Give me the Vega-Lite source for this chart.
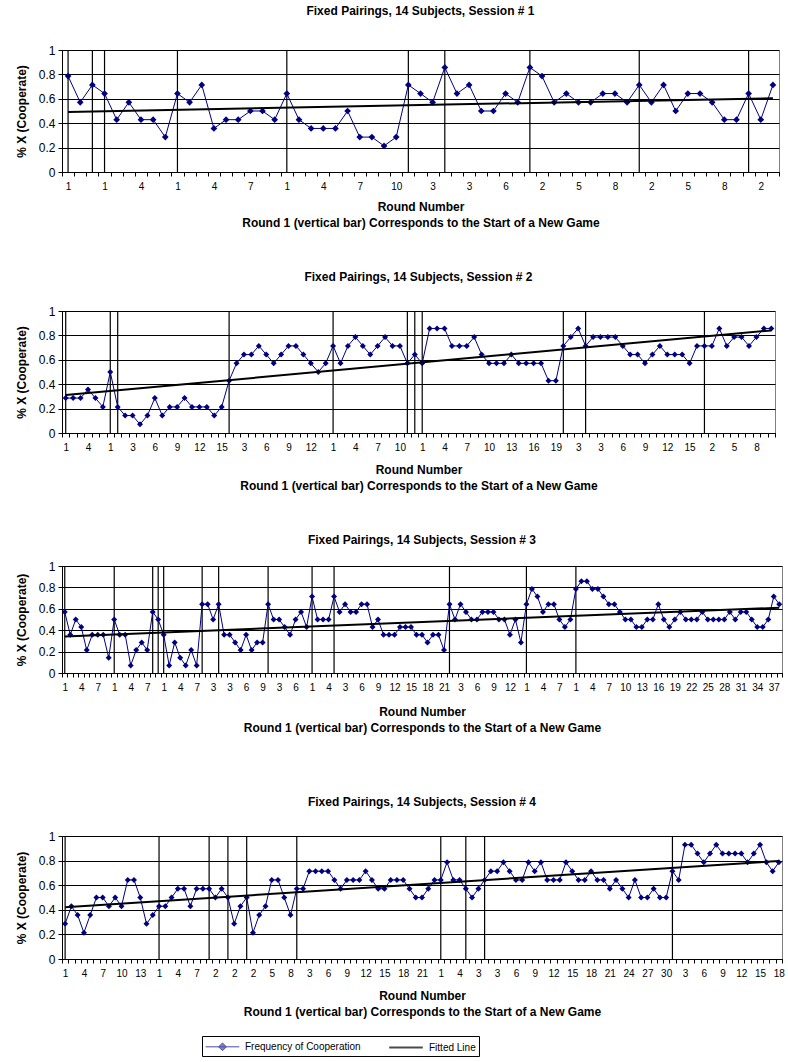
{
"$schema":"https://vega.github.io/schema/vega-lite/v6.json",
"padding":{"left":14,"top":4,"right":0,"bottom":0},
"config":{
"font":"Liberation Sans",
"view":{"stroke":"#808080","strokeWidth":1},
"title":{"fontSize":12,"fontWeight":"bold","color":"black","anchor":"middle"},
"axisX":{"domainColor":"black","tickColor":"black","tickSize":4,"tickBand":"extent","labelAngle":0,"labelFontSize":10,"labelColor":"black","labelOverlap":false,"labelPadding":5,"grid":false,"titleFontSize":12,"titleFontWeight":"bold","titleColor":"black","titlePadding":10,"titleLineHeight":16},
"axisY":{"domainColor":"black","tickColor":"black","tickSize":4,"labelFontSize":12,"labelColor":"black","labelPadding":3,"labelFlush":false,"gridColor":"black","gridOpacity":1,"titleFontSize":12,"titleFontWeight":"bold","titleColor":"black","titlePadding":10,"tickCount":5,"format":"~g"}
},
"datasets":{
"p1":[
{"idx":1,"cat":"001|1","round":1,"value":0.786},{"idx":2,"cat":"002|2","round":2,"value":0.571},{"idx":3,"cat":"003|1","round":1,"value":0.714},{"idx":4,"cat":"004|1","round":1,"value":0.643},{"idx":5,"cat":"005|2","round":2,"value":0.429},{"idx":6,"cat":"006|3","round":3,"value":0.571},{"idx":7,"cat":"007|4","round":4,"value":0.429},{"idx":8,"cat":"008|5","round":5,"value":0.429},{"idx":9,"cat":"009|6","round":6,"value":0.286},{"idx":10,"cat":"010|1","round":1,"value":0.643},
{"idx":11,"cat":"011|2","round":2,"value":0.571},{"idx":12,"cat":"012|3","round":3,"value":0.714},{"idx":13,"cat":"013|4","round":4,"value":0.357},{"idx":14,"cat":"014|5","round":5,"value":0.429},{"idx":15,"cat":"015|6","round":6,"value":0.429},{"idx":16,"cat":"016|7","round":7,"value":0.5},{"idx":17,"cat":"017|8","round":8,"value":0.5},{"idx":18,"cat":"018|9","round":9,"value":0.429},{"idx":19,"cat":"019|1","round":1,"value":0.643},{"idx":20,"cat":"020|2","round":2,"value":0.429},
{"idx":21,"cat":"021|3","round":3,"value":0.357},{"idx":22,"cat":"022|4","round":4,"value":0.357},{"idx":23,"cat":"023|5","round":5,"value":0.357},{"idx":24,"cat":"024|6","round":6,"value":0.5},{"idx":25,"cat":"025|7","round":7,"value":0.286},{"idx":26,"cat":"026|8","round":8,"value":0.286},{"idx":27,"cat":"027|9","round":9,"value":0.214},{"idx":28,"cat":"028|10","round":10,"value":0.286},{"idx":29,"cat":"029|1","round":1,"value":0.714},{"idx":30,"cat":"030|2","round":2,"value":0.643},
{"idx":31,"cat":"031|3","round":3,"value":0.571},{"idx":32,"cat":"032|1","round":1,"value":0.857},{"idx":33,"cat":"033|2","round":2,"value":0.643},{"idx":34,"cat":"034|3","round":3,"value":0.714},{"idx":35,"cat":"035|4","round":4,"value":0.5},{"idx":36,"cat":"036|5","round":5,"value":0.5},{"idx":37,"cat":"037|6","round":6,"value":0.643},{"idx":38,"cat":"038|7","round":7,"value":0.571},{"idx":39,"cat":"039|1","round":1,"value":0.857},{"idx":40,"cat":"040|2","round":2,"value":0.786},
{"idx":41,"cat":"041|3","round":3,"value":0.571},{"idx":42,"cat":"042|4","round":4,"value":0.643},{"idx":43,"cat":"043|5","round":5,"value":0.571},{"idx":44,"cat":"044|6","round":6,"value":0.571},{"idx":45,"cat":"045|7","round":7,"value":0.643},{"idx":46,"cat":"046|8","round":8,"value":0.643},{"idx":47,"cat":"047|9","round":9,"value":0.571},{"idx":48,"cat":"048|1","round":1,"value":0.714},{"idx":49,"cat":"049|2","round":2,"value":0.571},{"idx":50,"cat":"050|3","round":3,"value":0.714},
{"idx":51,"cat":"051|4","round":4,"value":0.5},{"idx":52,"cat":"052|5","round":5,"value":0.643},{"idx":53,"cat":"053|6","round":6,"value":0.643},{"idx":54,"cat":"054|7","round":7,"value":0.571},{"idx":55,"cat":"055|8","round":8,"value":0.429},{"idx":56,"cat":"056|9","round":9,"value":0.429},{"idx":57,"cat":"057|1","round":1,"value":0.643},{"idx":58,"cat":"058|2","round":2,"value":0.429},{"idx":59,"cat":"059|3","round":3,"value":0.714}
],
"p2":[
{"idx":1,"cat":"001|1","round":1,"value":0.286},{"idx":2,"cat":"002|2","round":2,"value":0.286},{"idx":3,"cat":"003|3","round":3,"value":0.286},{"idx":4,"cat":"004|4","round":4,"value":0.357},{"idx":5,"cat":"005|5","round":5,"value":0.286},{"idx":6,"cat":"006|6","round":6,"value":0.214},{"idx":7,"cat":"007|1","round":1,"value":0.5},{"idx":8,"cat":"008|1","round":1,"value":0.214},{"idx":9,"cat":"009|2","round":2,"value":0.143},{"idx":10,"cat":"010|3","round":3,"value":0.143},
{"idx":11,"cat":"011|4","round":4,"value":0.071},{"idx":12,"cat":"012|5","round":5,"value":0.143},{"idx":13,"cat":"013|6","round":6,"value":0.286},{"idx":14,"cat":"014|7","round":7,"value":0.143},{"idx":15,"cat":"015|8","round":8,"value":0.214},{"idx":16,"cat":"016|9","round":9,"value":0.214},{"idx":17,"cat":"017|10","round":10,"value":0.286},{"idx":18,"cat":"018|11","round":11,"value":0.214},{"idx":19,"cat":"019|12","round":12,"value":0.214},{"idx":20,"cat":"020|13","round":13,"value":0.214},
{"idx":21,"cat":"021|14","round":14,"value":0.143},{"idx":22,"cat":"022|15","round":15,"value":0.214},{"idx":23,"cat":"023|1","round":1,"value":0.429},{"idx":24,"cat":"024|2","round":2,"value":0.571},{"idx":25,"cat":"025|3","round":3,"value":0.643},{"idx":26,"cat":"026|4","round":4,"value":0.643},{"idx":27,"cat":"027|5","round":5,"value":0.714},{"idx":28,"cat":"028|6","round":6,"value":0.643},{"idx":29,"cat":"029|7","round":7,"value":0.571},{"idx":30,"cat":"030|8","round":8,"value":0.643},
{"idx":31,"cat":"031|9","round":9,"value":0.714},{"idx":32,"cat":"032|10","round":10,"value":0.714},{"idx":33,"cat":"033|11","round":11,"value":0.643},{"idx":34,"cat":"034|12","round":12,"value":0.571},{"idx":35,"cat":"035|13","round":13,"value":0.5},{"idx":36,"cat":"036|14","round":14,"value":0.571},{"idx":37,"cat":"037|1","round":1,"value":0.714},{"idx":38,"cat":"038|2","round":2,"value":0.571},{"idx":39,"cat":"039|3","round":3,"value":0.714},{"idx":40,"cat":"040|4","round":4,"value":0.786},
{"idx":41,"cat":"041|5","round":5,"value":0.714},{"idx":42,"cat":"042|6","round":6,"value":0.643},{"idx":43,"cat":"043|7","round":7,"value":0.714},{"idx":44,"cat":"044|8","round":8,"value":0.786},{"idx":45,"cat":"045|9","round":9,"value":0.714},{"idx":46,"cat":"046|10","round":10,"value":0.714},{"idx":47,"cat":"047|1","round":1,"value":0.571},{"idx":48,"cat":"048|1","round":1,"value":0.643},{"idx":49,"cat":"049|1","round":1,"value":0.571},{"idx":50,"cat":"050|2","round":2,"value":0.857},
{"idx":51,"cat":"051|3","round":3,"value":0.857},{"idx":52,"cat":"052|4","round":4,"value":0.857},{"idx":53,"cat":"053|5","round":5,"value":0.714},{"idx":54,"cat":"054|6","round":6,"value":0.714},{"idx":55,"cat":"055|7","round":7,"value":0.714},{"idx":56,"cat":"056|8","round":8,"value":0.786},{"idx":57,"cat":"057|9","round":9,"value":0.643},{"idx":58,"cat":"058|10","round":10,"value":0.571},{"idx":59,"cat":"059|11","round":11,"value":0.571},{"idx":60,"cat":"060|12","round":12,"value":0.571},
{"idx":61,"cat":"061|13","round":13,"value":0.643},{"idx":62,"cat":"062|14","round":14,"value":0.571},{"idx":63,"cat":"063|15","round":15,"value":0.571},{"idx":64,"cat":"064|16","round":16,"value":0.571},{"idx":65,"cat":"065|17","round":17,"value":0.571},{"idx":66,"cat":"066|18","round":18,"value":0.429},{"idx":67,"cat":"067|19","round":19,"value":0.429},{"idx":68,"cat":"068|1","round":1,"value":0.714},{"idx":69,"cat":"069|2","round":2,"value":0.786},{"idx":70,"cat":"070|3","round":3,"value":0.857},
{"idx":71,"cat":"071|1","round":1,"value":0.714},{"idx":72,"cat":"072|2","round":2,"value":0.786},{"idx":73,"cat":"073|3","round":3,"value":0.786},{"idx":74,"cat":"074|4","round":4,"value":0.786},{"idx":75,"cat":"075|5","round":5,"value":0.786},{"idx":76,"cat":"076|6","round":6,"value":0.714},{"idx":77,"cat":"077|7","round":7,"value":0.643},{"idx":78,"cat":"078|8","round":8,"value":0.643},{"idx":79,"cat":"079|9","round":9,"value":0.571},{"idx":80,"cat":"080|10","round":10,"value":0.643},
{"idx":81,"cat":"081|11","round":11,"value":0.714},{"idx":82,"cat":"082|12","round":12,"value":0.643},{"idx":83,"cat":"083|13","round":13,"value":0.643},{"idx":84,"cat":"084|14","round":14,"value":0.643},{"idx":85,"cat":"085|15","round":15,"value":0.571},{"idx":86,"cat":"086|16","round":16,"value":0.714},{"idx":87,"cat":"087|1","round":1,"value":0.714},{"idx":88,"cat":"088|2","round":2,"value":0.714},{"idx":89,"cat":"089|3","round":3,"value":0.857},{"idx":90,"cat":"090|4","round":4,"value":0.714},
{"idx":91,"cat":"091|5","round":5,"value":0.786},{"idx":92,"cat":"092|6","round":6,"value":0.786},{"idx":93,"cat":"093|7","round":7,"value":0.714},{"idx":94,"cat":"094|8","round":8,"value":0.786},{"idx":95,"cat":"095|9","round":9,"value":0.857},{"idx":96,"cat":"096|10","round":10,"value":0.857}
],
"p3":[
{"idx":1,"cat":"001|1","round":1,"value":0.571},{"idx":2,"cat":"002|2","round":2,"value":0.357},{"idx":3,"cat":"003|3","round":3,"value":0.5},{"idx":4,"cat":"004|4","round":4,"value":0.429},{"idx":5,"cat":"005|5","round":5,"value":0.214},{"idx":6,"cat":"006|6","round":6,"value":0.357},{"idx":7,"cat":"007|7","round":7,"value":0.357},{"idx":8,"cat":"008|8","round":8,"value":0.357},{"idx":9,"cat":"009|9","round":9,"value":0.143},{"idx":10,"cat":"010|1","round":1,"value":0.5},
{"idx":11,"cat":"011|2","round":2,"value":0.357},{"idx":12,"cat":"012|3","round":3,"value":0.357},{"idx":13,"cat":"013|4","round":4,"value":0.071},{"idx":14,"cat":"014|5","round":5,"value":0.214},{"idx":15,"cat":"015|6","round":6,"value":0.286},{"idx":16,"cat":"016|7","round":7,"value":0.214},{"idx":17,"cat":"017|1","round":1,"value":0.571},{"idx":18,"cat":"018|1","round":1,"value":0.5},{"idx":19,"cat":"019|1","round":1,"value":0.357},{"idx":20,"cat":"020|2","round":2,"value":0.071},
{"idx":21,"cat":"021|3","round":3,"value":0.286},{"idx":22,"cat":"022|4","round":4,"value":0.143},{"idx":23,"cat":"023|5","round":5,"value":0.071},{"idx":24,"cat":"024|6","round":6,"value":0.214},{"idx":25,"cat":"025|7","round":7,"value":0.071},{"idx":26,"cat":"026|1","round":1,"value":0.643},{"idx":27,"cat":"027|2","round":2,"value":0.643},{"idx":28,"cat":"028|3","round":3,"value":0.5},{"idx":29,"cat":"029|1","round":1,"value":0.643},{"idx":30,"cat":"030|2","round":2,"value":0.357},
{"idx":31,"cat":"031|3","round":3,"value":0.357},{"idx":32,"cat":"032|4","round":4,"value":0.286},{"idx":33,"cat":"033|5","round":5,"value":0.214},{"idx":34,"cat":"034|6","round":6,"value":0.357},{"idx":35,"cat":"035|7","round":7,"value":0.214},{"idx":36,"cat":"036|8","round":8,"value":0.286},{"idx":37,"cat":"037|9","round":9,"value":0.286},{"idx":38,"cat":"038|1","round":1,"value":0.643},{"idx":39,"cat":"039|2","round":2,"value":0.5},{"idx":40,"cat":"040|3","round":3,"value":0.5},
{"idx":41,"cat":"041|4","round":4,"value":0.429},{"idx":42,"cat":"042|5","round":5,"value":0.357},{"idx":43,"cat":"043|6","round":6,"value":0.5},{"idx":44,"cat":"044|7","round":7,"value":0.571},{"idx":45,"cat":"045|8","round":8,"value":0.429},{"idx":46,"cat":"046|1","round":1,"value":0.714},{"idx":47,"cat":"047|2","round":2,"value":0.5},{"idx":48,"cat":"048|3","round":3,"value":0.5},{"idx":49,"cat":"049|4","round":4,"value":0.5},{"idx":50,"cat":"050|1","round":1,"value":0.714},
{"idx":51,"cat":"051|2","round":2,"value":0.571},{"idx":52,"cat":"052|3","round":3,"value":0.643},{"idx":53,"cat":"053|4","round":4,"value":0.571},{"idx":54,"cat":"054|5","round":5,"value":0.571},{"idx":55,"cat":"055|6","round":6,"value":0.643},{"idx":56,"cat":"056|7","round":7,"value":0.643},{"idx":57,"cat":"057|8","round":8,"value":0.429},{"idx":58,"cat":"058|9","round":9,"value":0.5},{"idx":59,"cat":"059|10","round":10,"value":0.357},{"idx":60,"cat":"060|11","round":11,"value":0.357},
{"idx":61,"cat":"061|12","round":12,"value":0.357},{"idx":62,"cat":"062|13","round":13,"value":0.429},{"idx":63,"cat":"063|14","round":14,"value":0.429},{"idx":64,"cat":"064|15","round":15,"value":0.429},{"idx":65,"cat":"065|16","round":16,"value":0.357},{"idx":66,"cat":"066|17","round":17,"value":0.357},{"idx":67,"cat":"067|18","round":18,"value":0.286},{"idx":68,"cat":"068|19","round":19,"value":0.357},{"idx":69,"cat":"069|20","round":20,"value":0.357},{"idx":70,"cat":"070|21","round":21,"value":0.214},
{"idx":71,"cat":"071|1","round":1,"value":0.643},{"idx":72,"cat":"072|2","round":2,"value":0.5},{"idx":73,"cat":"073|3","round":3,"value":0.643},{"idx":74,"cat":"074|4","round":4,"value":0.571},{"idx":75,"cat":"075|5","round":5,"value":0.5},{"idx":76,"cat":"076|6","round":6,"value":0.5},{"idx":77,"cat":"077|7","round":7,"value":0.571},{"idx":78,"cat":"078|8","round":8,"value":0.571},{"idx":79,"cat":"079|9","round":9,"value":0.571},{"idx":80,"cat":"080|10","round":10,"value":0.5},
{"idx":81,"cat":"081|11","round":11,"value":0.5},{"idx":82,"cat":"082|12","round":12,"value":0.357},{"idx":83,"cat":"083|13","round":13,"value":0.5},{"idx":84,"cat":"084|14","round":14,"value":0.286},{"idx":85,"cat":"085|1","round":1,"value":0.643},{"idx":86,"cat":"086|2","round":2,"value":0.786},{"idx":87,"cat":"087|3","round":3,"value":0.714},{"idx":88,"cat":"088|4","round":4,"value":0.571},{"idx":89,"cat":"089|5","round":5,"value":0.643},{"idx":90,"cat":"090|6","round":6,"value":0.643},
{"idx":91,"cat":"091|7","round":7,"value":0.5},{"idx":92,"cat":"092|8","round":8,"value":0.429},{"idx":93,"cat":"093|9","round":9,"value":0.5},{"idx":94,"cat":"094|1","round":1,"value":0.786},{"idx":95,"cat":"095|2","round":2,"value":0.857},{"idx":96,"cat":"096|3","round":3,"value":0.857},{"idx":97,"cat":"097|4","round":4,"value":0.786},{"idx":98,"cat":"098|5","round":5,"value":0.786},{"idx":99,"cat":"099|6","round":6,"value":0.714},{"idx":100,"cat":"100|7","round":7,"value":0.643},
{"idx":101,"cat":"101|8","round":8,"value":0.643},{"idx":102,"cat":"102|9","round":9,"value":0.571},{"idx":103,"cat":"103|10","round":10,"value":0.5},{"idx":104,"cat":"104|11","round":11,"value":0.5},{"idx":105,"cat":"105|12","round":12,"value":0.429},{"idx":106,"cat":"106|13","round":13,"value":0.429},{"idx":107,"cat":"107|14","round":14,"value":0.5},{"idx":108,"cat":"108|15","round":15,"value":0.5},{"idx":109,"cat":"109|16","round":16,"value":0.643},{"idx":110,"cat":"110|17","round":17,"value":0.5},
{"idx":111,"cat":"111|18","round":18,"value":0.429},{"idx":112,"cat":"112|19","round":19,"value":0.5},{"idx":113,"cat":"113|20","round":20,"value":0.571},{"idx":114,"cat":"114|21","round":21,"value":0.5},{"idx":115,"cat":"115|22","round":22,"value":0.5},{"idx":116,"cat":"116|23","round":23,"value":0.5},{"idx":117,"cat":"117|24","round":24,"value":0.571},{"idx":118,"cat":"118|25","round":25,"value":0.5},{"idx":119,"cat":"119|26","round":26,"value":0.5},{"idx":120,"cat":"120|27","round":27,"value":0.5},
{"idx":121,"cat":"121|28","round":28,"value":0.5},{"idx":122,"cat":"122|29","round":29,"value":0.571},{"idx":123,"cat":"123|30","round":30,"value":0.5},{"idx":124,"cat":"124|31","round":31,"value":0.571},{"idx":125,"cat":"125|32","round":32,"value":0.571},{"idx":126,"cat":"126|33","round":33,"value":0.5},{"idx":127,"cat":"127|34","round":34,"value":0.429},{"idx":128,"cat":"128|35","round":35,"value":0.429},{"idx":129,"cat":"129|36","round":36,"value":0.5},{"idx":130,"cat":"130|37","round":37,"value":0.714},
{"idx":131,"cat":"131|38","round":38,"value":0.643}
],
"p4":[
{"idx":1,"cat":"001|1","round":1,"value":0.286},{"idx":2,"cat":"002|2","round":2,"value":0.429},{"idx":3,"cat":"003|3","round":3,"value":0.357},{"idx":4,"cat":"004|4","round":4,"value":0.214},{"idx":5,"cat":"005|5","round":5,"value":0.357},{"idx":6,"cat":"006|6","round":6,"value":0.5},{"idx":7,"cat":"007|7","round":7,"value":0.5},{"idx":8,"cat":"008|8","round":8,"value":0.429},{"idx":9,"cat":"009|9","round":9,"value":0.5},{"idx":10,"cat":"010|10","round":10,"value":0.429},
{"idx":11,"cat":"011|11","round":11,"value":0.643},{"idx":12,"cat":"012|12","round":12,"value":0.643},{"idx":13,"cat":"013|13","round":13,"value":0.5},{"idx":14,"cat":"014|14","round":14,"value":0.286},{"idx":15,"cat":"015|15","round":15,"value":0.357},{"idx":16,"cat":"016|1","round":1,"value":0.429},{"idx":17,"cat":"017|2","round":2,"value":0.429},{"idx":18,"cat":"018|3","round":3,"value":0.5},{"idx":19,"cat":"019|4","round":4,"value":0.571},{"idx":20,"cat":"020|5","round":5,"value":0.571},
{"idx":21,"cat":"021|6","round":6,"value":0.429},{"idx":22,"cat":"022|7","round":7,"value":0.571},{"idx":23,"cat":"023|8","round":8,"value":0.571},{"idx":24,"cat":"024|1","round":1,"value":0.571},{"idx":25,"cat":"025|2","round":2,"value":0.5},{"idx":26,"cat":"026|3","round":3,"value":0.571},{"idx":27,"cat":"027|1","round":1,"value":0.5},{"idx":28,"cat":"028|2","round":2,"value":0.286},{"idx":29,"cat":"029|3","round":3,"value":0.429},{"idx":30,"cat":"030|1","round":1,"value":0.5},
{"idx":31,"cat":"031|2","round":2,"value":0.214},{"idx":32,"cat":"032|3","round":3,"value":0.357},{"idx":33,"cat":"033|4","round":4,"value":0.429},{"idx":34,"cat":"034|5","round":5,"value":0.643},{"idx":35,"cat":"035|6","round":6,"value":0.643},{"idx":36,"cat":"036|7","round":7,"value":0.5},{"idx":37,"cat":"037|8","round":8,"value":0.357},{"idx":38,"cat":"038|1","round":1,"value":0.571},{"idx":39,"cat":"039|2","round":2,"value":0.571},{"idx":40,"cat":"040|3","round":3,"value":0.714},
{"idx":41,"cat":"041|4","round":4,"value":0.714},{"idx":42,"cat":"042|5","round":5,"value":0.714},{"idx":43,"cat":"043|6","round":6,"value":0.714},{"idx":44,"cat":"044|7","round":7,"value":0.643},{"idx":45,"cat":"045|8","round":8,"value":0.571},{"idx":46,"cat":"046|9","round":9,"value":0.643},{"idx":47,"cat":"047|10","round":10,"value":0.643},{"idx":48,"cat":"048|11","round":11,"value":0.643},{"idx":49,"cat":"049|12","round":12,"value":0.714},{"idx":50,"cat":"050|13","round":13,"value":0.643},
{"idx":51,"cat":"051|14","round":14,"value":0.571},{"idx":52,"cat":"052|15","round":15,"value":0.571},{"idx":53,"cat":"053|16","round":16,"value":0.643},{"idx":54,"cat":"054|17","round":17,"value":0.643},{"idx":55,"cat":"055|18","round":18,"value":0.643},{"idx":56,"cat":"056|19","round":19,"value":0.571},{"idx":57,"cat":"057|20","round":20,"value":0.5},{"idx":58,"cat":"058|21","round":21,"value":0.5},{"idx":59,"cat":"059|22","round":22,"value":0.571},{"idx":60,"cat":"060|23","round":23,"value":0.643},
{"idx":61,"cat":"061|1","round":1,"value":0.643},{"idx":62,"cat":"062|2","round":2,"value":0.786},{"idx":63,"cat":"063|3","round":3,"value":0.643},{"idx":64,"cat":"064|4","round":4,"value":0.643},{"idx":65,"cat":"065|1","round":1,"value":0.571},{"idx":66,"cat":"066|2","round":2,"value":0.5},{"idx":67,"cat":"067|3","round":3,"value":0.571},{"idx":68,"cat":"068|1","round":1,"value":0.643},{"idx":69,"cat":"069|2","round":2,"value":0.714},{"idx":70,"cat":"070|3","round":3,"value":0.714},
{"idx":71,"cat":"071|4","round":4,"value":0.786},{"idx":72,"cat":"072|5","round":5,"value":0.714},{"idx":73,"cat":"073|6","round":6,"value":0.643},{"idx":74,"cat":"074|7","round":7,"value":0.643},{"idx":75,"cat":"075|8","round":8,"value":0.786},{"idx":76,"cat":"076|9","round":9,"value":0.714},{"idx":77,"cat":"077|10","round":10,"value":0.786},{"idx":78,"cat":"078|11","round":11,"value":0.643},{"idx":79,"cat":"079|12","round":12,"value":0.643},{"idx":80,"cat":"080|13","round":13,"value":0.643},
{"idx":81,"cat":"081|14","round":14,"value":0.786},{"idx":82,"cat":"082|15","round":15,"value":0.714},{"idx":83,"cat":"083|16","round":16,"value":0.643},{"idx":84,"cat":"084|17","round":17,"value":0.643},{"idx":85,"cat":"085|18","round":18,"value":0.714},{"idx":86,"cat":"086|19","round":19,"value":0.643},{"idx":87,"cat":"087|20","round":20,"value":0.643},{"idx":88,"cat":"088|21","round":21,"value":0.571},{"idx":89,"cat":"089|22","round":22,"value":0.643},{"idx":90,"cat":"090|23","round":23,"value":0.571},
{"idx":91,"cat":"091|24","round":24,"value":0.5},{"idx":92,"cat":"092|25","round":25,"value":0.643},{"idx":93,"cat":"093|26","round":26,"value":0.5},{"idx":94,"cat":"094|27","round":27,"value":0.5},{"idx":95,"cat":"095|28","round":28,"value":0.571},{"idx":96,"cat":"096|29","round":29,"value":0.5},{"idx":97,"cat":"097|30","round":30,"value":0.5},{"idx":98,"cat":"098|1","round":1,"value":0.714},{"idx":99,"cat":"099|2","round":2,"value":0.643},{"idx":100,"cat":"100|3","round":3,"value":0.929},
{"idx":101,"cat":"101|4","round":4,"value":0.929},{"idx":102,"cat":"102|5","round":5,"value":0.857},{"idx":103,"cat":"103|6","round":6,"value":0.786},{"idx":104,"cat":"104|7","round":7,"value":0.857},{"idx":105,"cat":"105|8","round":8,"value":0.929},{"idx":106,"cat":"106|9","round":9,"value":0.857},{"idx":107,"cat":"107|10","round":10,"value":0.857},{"idx":108,"cat":"108|11","round":11,"value":0.857},{"idx":109,"cat":"109|12","round":12,"value":0.857},{"idx":110,"cat":"110|13","round":13,"value":0.786},
{"idx":111,"cat":"111|14","round":14,"value":0.857},{"idx":112,"cat":"112|15","round":15,"value":0.929},{"idx":113,"cat":"113|16","round":16,"value":0.786},{"idx":114,"cat":"114|17","round":17,"value":0.714},{"idx":115,"cat":"115|18","round":18,"value":0.786}
]
},
"spacing":61,
"vconcat":[
{"spacing":41,"vconcat":[
{"data":{"name":"p1"},"width":717,"height":122,
"title":{"text":"Fixed Pairings, 14 Subjects, Session # 1","offset":26},
"encoding":{"x":{"field":"cat","type":"ordinal","sort":"ascending","scale":{"type":"band","paddingInner":0,"paddingOuter":0},"axis":{"title":["Round Number","Round 1 (vertical bar) Corresponds to the Start of a New Game"],"labelExpr":"(parseInt(slice(datum.label,0,3))-1)%3==0 ? slice(datum.label,4) : ''"}}},
"layer":[
{"transform":[{"filter":"datum.round == 1"}],"mark":{"type":"rule","color":"black","strokeWidth":1.2}},
{"mark":{"type":"line","color":"#000080","strokeWidth":1,"point":{"shape":"diamond","filled":true,"size":45,"color":"#000080"}},
"encoding":{"y":{"field":"value","type":"quantitative","scale":{"domain":[0,1],"nice":false},"axis":{"title":"% X (Cooperate)"}}}},
{"transform":[{"regression":"value","on":"idx"},{"lookup":"idx","from":{"data":{"name":"p1"},"key":"idx","fields":["cat"]}}],
"mark":{"type":"line","color":"black","strokeWidth":2},
"encoding":{"y":{"field":"value","type":"quantitative"}}}
]},
{"data":{"name":"p2"},"width":713,"height":122,
"title":{"text":"Fixed Pairings, 14 Subjects, Session # 2","offset":21},
"encoding":{"x":{"field":"cat","type":"ordinal","sort":"ascending","scale":{"type":"band","paddingInner":0,"paddingOuter":0},"axis":{"titlePadding":12,"title":["Round Number","Round 1 (vertical bar) Corresponds to the Start of a New Game"],"labelExpr":"(parseInt(slice(datum.label,0,3))-1)%3==0 ? slice(datum.label,4) : ''"}}},
"layer":[
{"transform":[{"filter":"datum.round == 1"}],"mark":{"type":"rule","color":"black","strokeWidth":1.2}},
{"mark":{"type":"line","color":"#000080","strokeWidth":1,"point":{"shape":"diamond","filled":true,"size":36,"color":"#000080"}},
"encoding":{"y":{"field":"value","type":"quantitative","scale":{"domain":[0,1],"nice":false},"axis":{"title":"% X (Cooperate)"}}}},
{"transform":[{"regression":"value","on":"idx"},{"lookup":"idx","from":{"data":{"name":"p2"},"key":"idx","fields":["cat"]}}],
"mark":{"type":"line","color":"black","strokeWidth":2},
"encoding":{"y":{"field":"value","type":"quantitative"}}}
]},
{"data":{"name":"p3"},"width":720,"height":107,
"title":{"text":"Fixed Pairings, 14 Subjects, Session # 3","offset":13},
"encoding":{"x":{"field":"cat","type":"ordinal","sort":"ascending","scale":{"type":"band","paddingInner":0,"paddingOuter":0},"axis":{"titlePadding":14,"title":["Round Number","Round 1 (vertical bar) Corresponds to the Start of a New Game"],"labelExpr":"(parseInt(slice(datum.label,0,3))-1)%3==0 ? slice(datum.label,4) : ''"}}},
"layer":[
{"transform":[{"filter":"datum.round == 1"}],"mark":{"type":"rule","color":"black","strokeWidth":1.2}},
{"mark":{"type":"line","color":"#000080","strokeWidth":1,"point":{"shape":"diamond","filled":true,"size":36,"color":"#000080"}},
"encoding":{"y":{"field":"value","type":"quantitative","scale":{"domain":[0,1],"nice":false},"axis":{"title":"% X (Cooperate)"}}}},
{"transform":[{"regression":"value","on":"idx"},{"lookup":"idx","from":{"data":{"name":"p3"},"key":"idx","fields":["cat"]}}],
"mark":{"type":"line","color":"black","strokeWidth":2},
"encoding":{"y":{"field":"value","type":"quantitative"}}}
]}
]},
{"data":{"name":"p4"},"width":720,"height":123,
"title":{"text":"Fixed Pairings, 14 Subjects, Session # 4","offset":21},
"encoding":{"x":{"field":"cat","type":"ordinal","sort":"ascending","scale":{"type":"band","paddingInner":0,"paddingOuter":0},"axis":{"titlePadding":12,"title":["Round Number","Round 1 (vertical bar) Corresponds to the Start of a New Game"],"labelExpr":"(parseInt(slice(datum.label,0,3))-1)%3==0 ? slice(datum.label,4) : ''"}}},
"layer":[
{"transform":[{"filter":"datum.round == 1"}],"mark":{"type":"rule","color":"black","strokeWidth":1.2}},
{"mark":{"type":"line","color":"#000080","strokeWidth":1,"point":{"shape":"diamond","filled":true,"size":36,"color":"#000080"}},
"encoding":{"y":{"field":"value","type":"quantitative","scale":{"domain":[0,1],"nice":false},"axis":{"title":"% X (Cooperate)"}}}},
{"transform":[{"regression":"value","on":"idx"},{"lookup":"idx","from":{"data":{"name":"p4"},"key":"idx","fields":["cat"]}}],
"mark":{"type":"line","color":"black","strokeWidth":2},
"encoding":{"y":{"field":"value","type":"quantitative"}}},
{"transform":[{"filter":"false"}],"mark":{"type":"point","filled":true},
"encoding":{
"shape":{"field":"series","type":"nominal","scale":{"domain":["Frequency of Cooperation","Fitted Line"],"range":["M-2.4,0H2.4M0,-0.55L0.55,0L0,0.55L-0.55,0Z","M-2.4,0H2.4"]},"legend":{"title":null,"orient":"none","legendX":140,"legendY":986,"direction":"horizontal","labelFontSize":10,"labelColor":"black","strokeColor":"black","padding":3,"symbolSize":196,"symbolOffset":10,"columnPadding":24,"labelOffset":15}},
"fill":{"field":"series","type":"nominal","scale":{"domain":["Frequency of Cooperation","Fitted Line"],"range":["#000080","transparent"]},"legend":{"title":null,"orient":"none","legendX":140,"legendY":986,"direction":"horizontal","labelFontSize":10,"labelColor":"black","strokeColor":"black","padding":3,"symbolSize":196,"symbolOffset":10,"columnPadding":24,"labelOffset":15}},
"stroke":{"field":"series","type":"nominal","scale":{"domain":["Frequency of Cooperation","Fitted Line"],"range":["#000080","#000000"]},"legend":{"title":null,"orient":"none","legendX":140,"legendY":986,"direction":"horizontal","labelFontSize":10,"labelColor":"black","strokeColor":"black","padding":3,"symbolSize":196,"symbolOffset":10,"columnPadding":24,"labelOffset":15}},
"strokeWidth":{"field":"series","type":"ordinal","scale":{"domain":["Frequency of Cooperation","Fitted Line"],"range":[1,2]},"legend":{"title":null,"orient":"none","legendX":140,"legendY":986,"direction":"horizontal","labelFontSize":10,"labelColor":"black","strokeColor":"black","padding":3,"symbolSize":196,"symbolOffset":10,"columnPadding":24,"labelOffset":15}}
}}
]}
]
}
